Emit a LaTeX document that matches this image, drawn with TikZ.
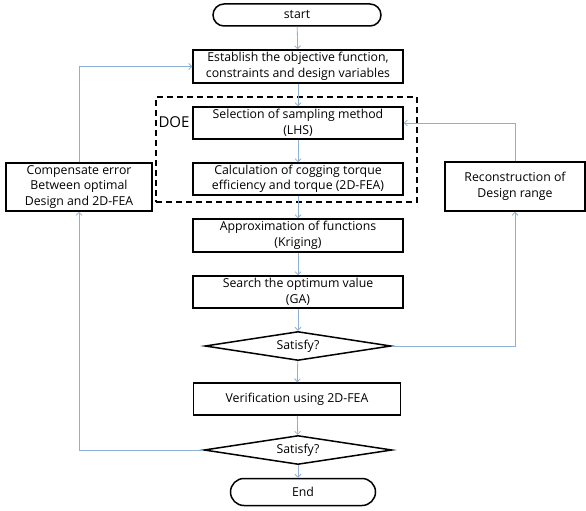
\documentclass[tikz,border=0pt]{standalone}
\usepackage{fontspec}
\setmainfont{Open Sans}
\usetikzlibrary{shapes.misc,shapes.geometric,arrows.meta}
\begin{document}
\begin{tikzpicture}[x=1pt,y=-1pt,
  font=\fontsize{12.3}{15.5}\selectfont,
  box/.style={draw=black,line width=1.5pt,rectangle,inner sep=0pt,align=center,minimum width=#1},
  box/.default=210pt,
  term/.style={draw=black,line width=1.5pt,rounded rectangle,inner sep=0pt,minimum height=22pt},
  dec/.style={draw=black,line width=1.5pt,diamond,aspect=6,inner sep=0pt,minimum width=186pt,minimum height=29pt},
  conn/.style={draw={rgb,255:red,142;green,176;blue,210},line width=0.8pt,-{Straight Barb[length=3pt,width=6pt]}},
  doe/.style={draw=black,line width=1.8pt,dash pattern=on 6pt off 4pt}]
\useasboundingbox (0,0) rectangle (586,511);
\node[term,minimum width=168pt] (start) at (297,15) {start};
\node[box,minimum height=33pt] (est) at (298,66.5) {Establish the objective function,\\constraints and design variables};
\node[box,minimum height=32pt] (sel) at (298,123) {Selection of sampling method\\(LHS)};
\node[box,minimum height=32pt] (calc) at (298,179) {Calculation of cogging torque\\efficiency and torque (2D-FEA)};
\node[box,minimum height=33pt] (appr) at (298,235.5) {Approximation of functions\\(Kriging)};
\node[box,minimum height=32pt] (srch) at (298,292) {Search the optimum value\\(GA)};
\node[dec] (d1) at (298,346) {Satisfy?};
\node[box=207pt,minimum height=32pt] (ver) at (297,399) {Verification using 2D-FEA};
\node[dec,minimum width=188pt] (d2) at (298,450) {Satisfy?};
\node[term,minimum width=145pt,minimum height=27pt] (end) at (303,492) {End};
\node[box=146pt,minimum height=48pt] (comp) at (79,187) {Compensate error\\Between optimal\\Design and 2D-FEA};
\node[box=140pt,minimum height=49pt] (rec) at (515,186.5) {Reconstruction of\\Design range};
\node[doe,rectangle,minimum width=261pt,minimum height=105pt,inner sep=0pt] (doebox) at (286.5,149.5) {};
\node[font=\fontsize{15}{18}\selectfont,inner sep=0pt] (doelabel) at (174,122) {DOE};
\draw[conn] (start) -- (est);
\draw[conn] (est) -- (sel);
\draw[conn] (sel) -- (calc);
\draw[conn] (calc) -- (appr);
\draw[conn] (appr) -- (srch);
\draw[conn] (srch) -- (d1);
\draw[conn] (d1) -- (ver);
\draw[conn] (ver) -- (d2);
\draw[conn] (d2) -- (end.north -| d2.south);
\draw[conn] (d1.east) -| (rec.south);
\draw[conn] (rec.north) |- (sel.east);
\draw[conn] (d2.west) -| (comp.south);
\draw[conn] (comp.north) |- (est.west);
\end{tikzpicture}
\end{document}
